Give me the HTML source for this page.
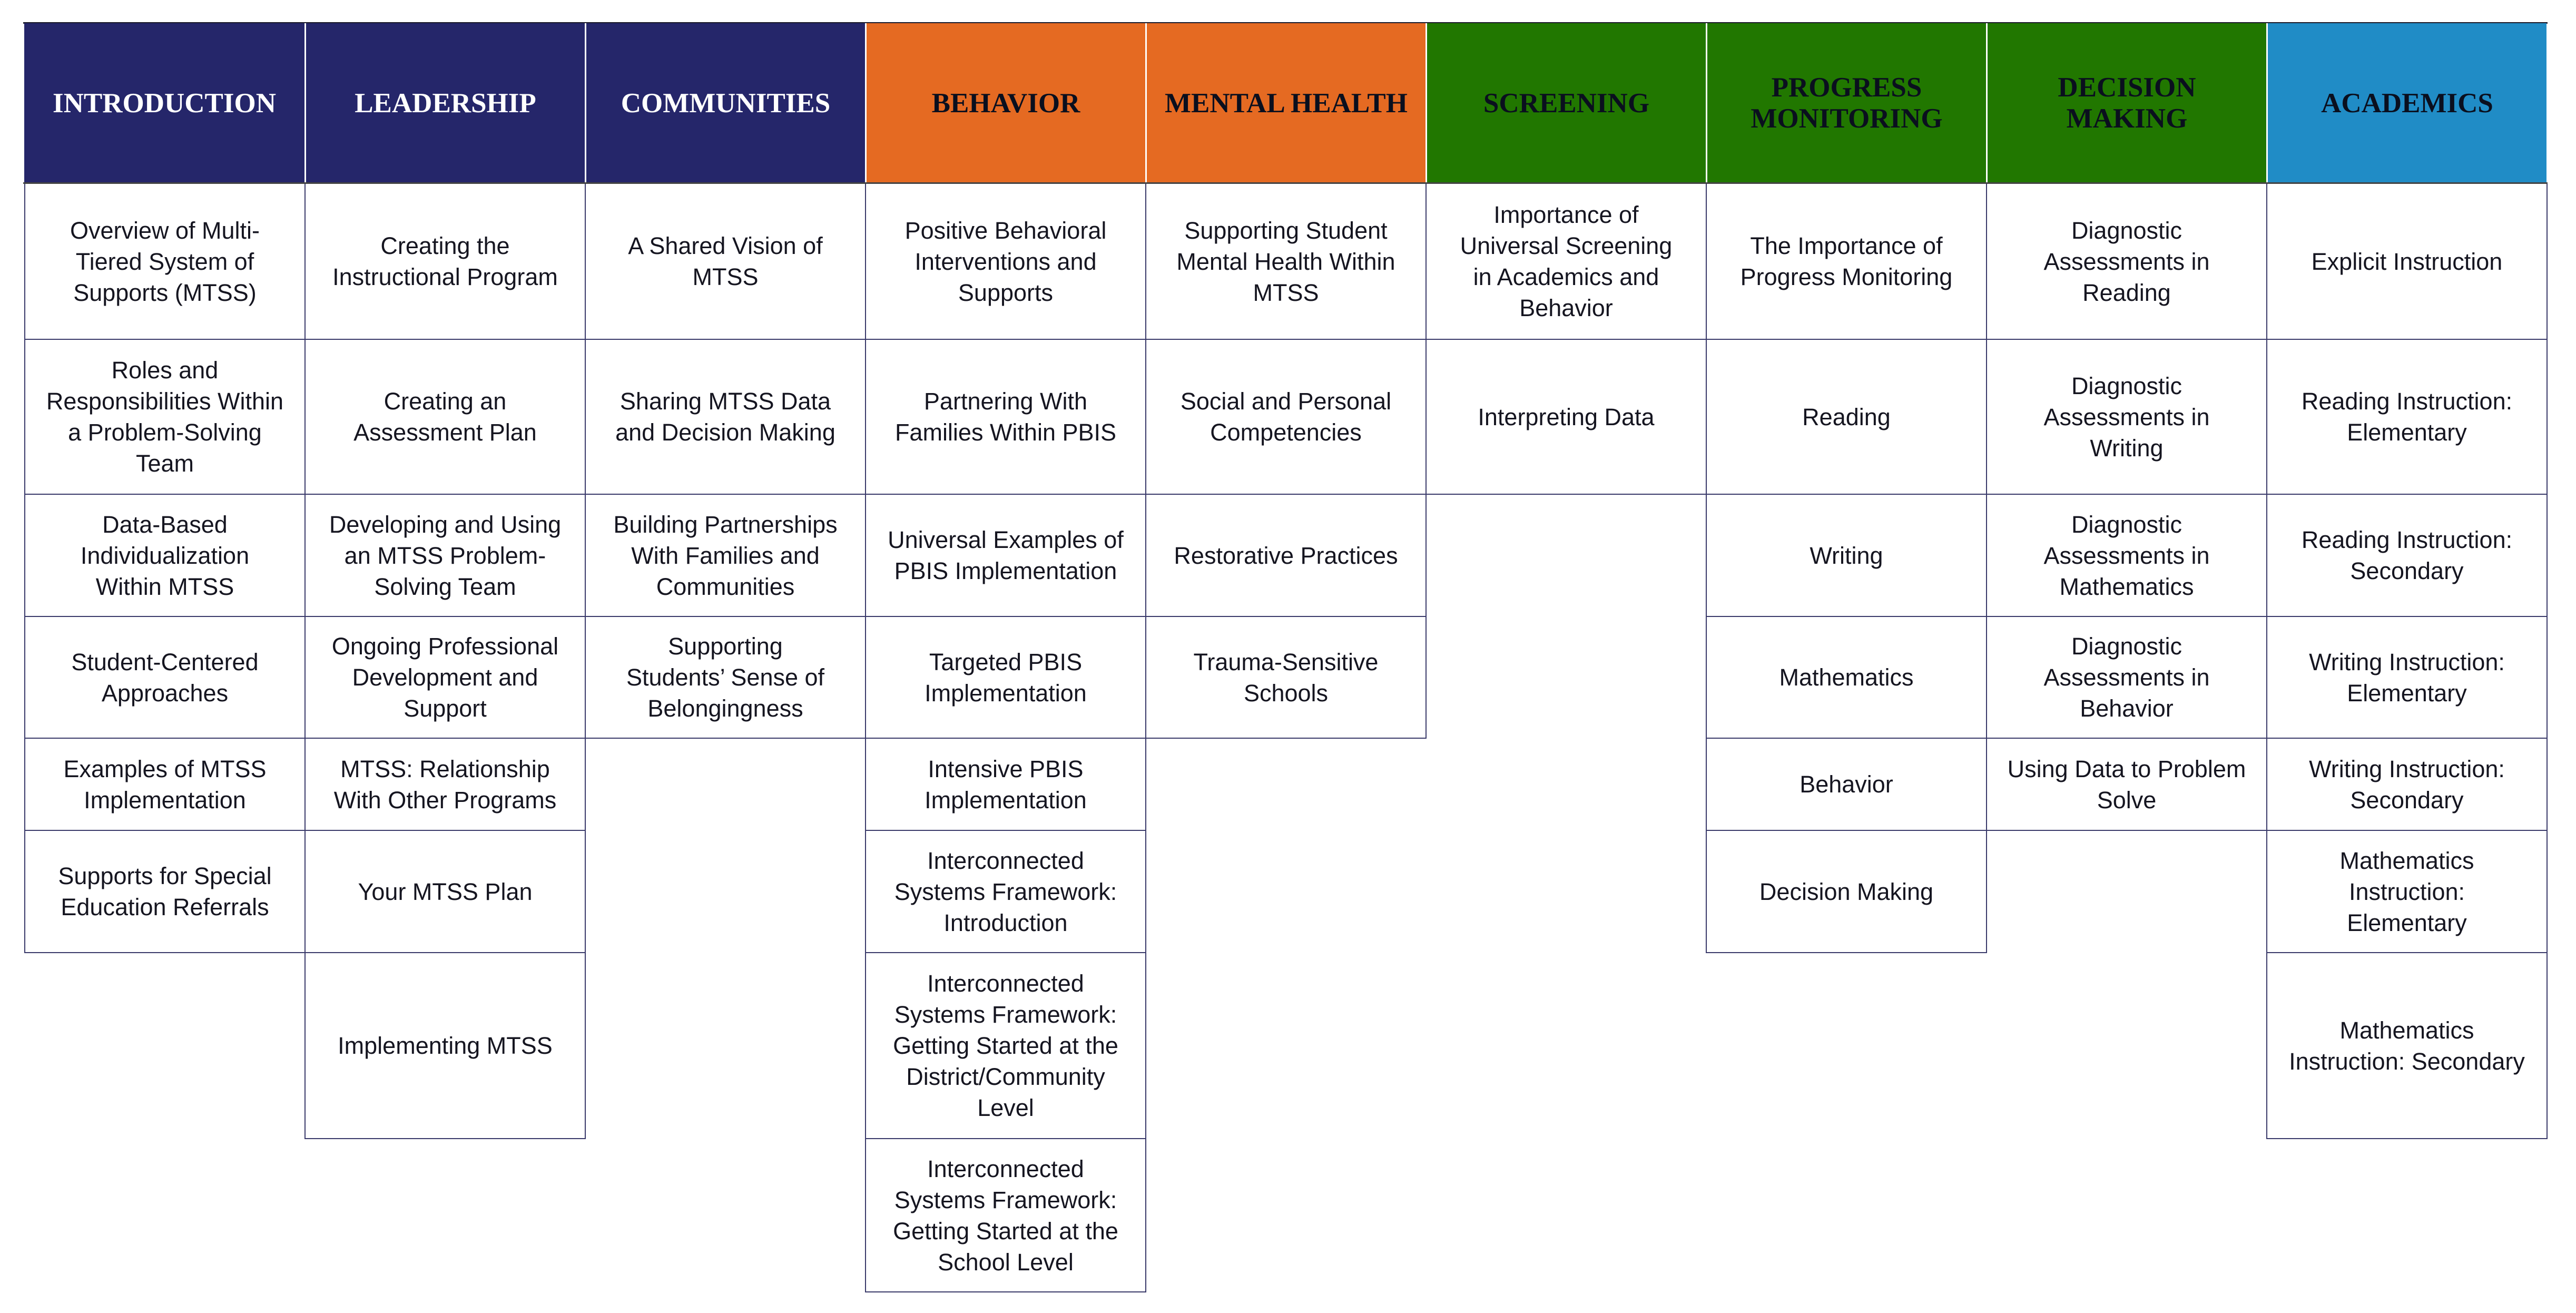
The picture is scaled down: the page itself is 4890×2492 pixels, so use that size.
<!DOCTYPE html>
<html><head><meta charset="utf-8">
<style>
html,body{margin:0;padding:0;background:#fff;}
body{width:4890px;height:2492px;position:relative;overflow:hidden;}
.h{position:absolute;top:44px;height:304px;display:flex;align-items:center;justify-content:center;text-align:center;
font-family:"Liberation Serif",serif;font-weight:bold;font-size:53px;line-height:59px;box-sizing:border-box;}
.c{position:absolute;display:flex;align-items:center;justify-content:center;text-align:center;box-sizing:border-box;
border:2px solid #3a3a6a;font-family:"Liberation Sans",sans-serif;font-size:45px;line-height:59px;color:#151520;white-space:nowrap;}
</style></head><body>
<div id="root"></div>
<script>
const L=46,W=532;
const y=[348,644,938,1170,1401,1576,1808,2161,2452];
const cols=[
 ["INTRODUCTION","#25266a","#fff",["Overview of Multi-<br>Tiered System of<br>Supports (MTSS)","Roles and<br>Responsibilities Within<br>a Problem-Solving<br>Team","Data-Based<br>Individualization<br>Within MTSS","Student-Centered<br>Approaches","Examples of MTSS<br>Implementation","Supports for Special<br>Education Referrals"]],
 ["LEADERSHIP","#25266a","#fff",["Creating the<br>Instructional Program","Creating an<br>Assessment Plan","Developing and Using<br>an MTSS Problem-<br>Solving Team","Ongoing Professional<br>Development and<br>Support","MTSS: Relationship<br>With Other Programs","Your MTSS Plan","Implementing MTSS"]],
 ["COMMUNITIES","#25266a","#fff",["A Shared Vision of<br>MTSS","Sharing MTSS Data<br>and Decision Making","Building Partnerships<br>With Families and<br>Communities","Supporting<br>Students’ Sense of<br>Belongingness"]],
 ["BEHAVIOR","#e56a22","#0a0f1e",["Positive Behavioral<br>Interventions and<br>Supports","Partnering With<br>Families Within PBIS","Universal Examples of<br>PBIS Implementation","Targeted PBIS<br>Implementation","Intensive PBIS<br>Implementation","Interconnected<br>Systems Framework:<br>Introduction","Interconnected<br>Systems Framework:<br>Getting Started at the<br>District/Community<br>Level","Interconnected<br>Systems Framework:<br>Getting Started at the<br>School Level"]],
 ["MENTAL HEALTH","#e56a22","#0a0f1e",["Supporting Student<br>Mental Health Within<br>MTSS","Social and Personal<br>Competencies","Restorative Practices","Trauma-Sensitive<br>Schools"]],
 ["SCREENING","#217700","#0a0f1e",["Importance of<br>Universal Screening<br>in Academics and<br>Behavior","Interpreting Data"]],
 ["PROGRESS<br>MONITORING","#217700","#0a0f1e",["The Importance of<br>Progress Monitoring","Reading","Writing","Mathematics","Behavior","Decision Making"]],
 ["DECISION<br>MAKING","#217700","#0a0f1e",["Diagnostic<br>Assessments in<br>Reading","Diagnostic<br>Assessments in<br>Writing","Diagnostic<br>Assessments in<br>Mathematics","Diagnostic<br>Assessments in<br>Behavior","Using Data to Problem<br>Solve"]],
 ["ACADEMICS","#208cc6","#0a0f1e",["Explicit Instruction","Reading Instruction:<br>Elementary","Reading Instruction:<br>Secondary","Writing Instruction:<br>Elementary","Writing Instruction:<br>Secondary","Mathematics<br>Instruction:<br>Elementary","Mathematics<br>Instruction: Secondary"]]
];
let html='<div style="position:absolute;left:44px;top:42px;width:4792px;height:3px;background:#1a1a2a"></div>';
cols.forEach((c,i)=>{
 const x=Math.round(L+W*i);
 const x2=Math.round(L+W*(i+1));
 html+=`<div class="h" style="left:${x}px;width:${x2-x}px;background:${c[1]};color:${c[2]};${i>0?'border-left:3px solid #fff;':''}">${c[0]}</div>`;
 c[3].forEach((t,j)=>{
  html+=`<div class="c" style="left:${x}px;width:${x2-x+2}px;top:${y[j]-1}px;height:${y[j+1]-y[j]+2}px;">${t}</div>`;
 });
});
html+='<div style="position:absolute;left:44px;top:346px;width:4792px;height:3px;background:#444"></div>';
document.getElementById('root').innerHTML=html;
</script>
</body></html>
